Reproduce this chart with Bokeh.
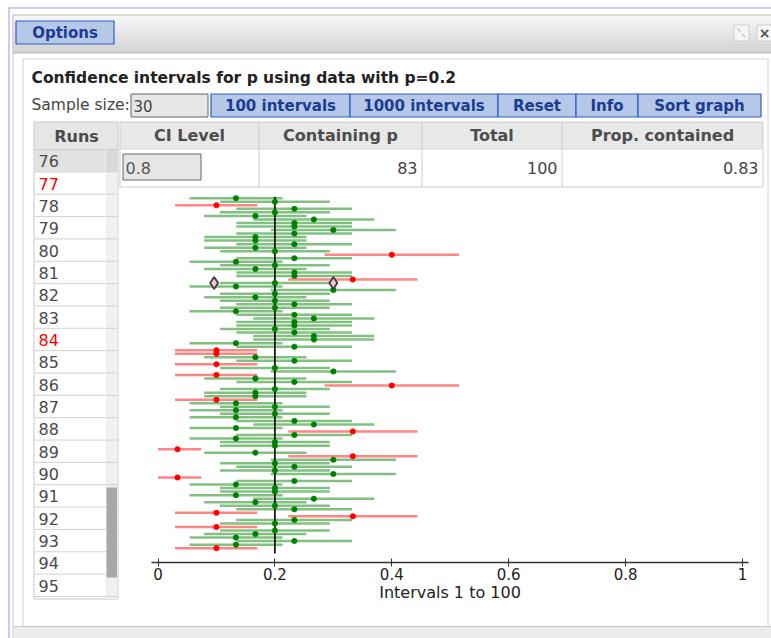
from bokeh.plotting import figure
from bokeh.models import Range1d, LinearAxis, FixedTicker, CustomJSTickFormatter, ColumnDataSource
from bokeh.core.properties import value
from bokeh.embed import file_html
from bokeh.resources import INLINE

# ---------------- data ----------------
n_obs = 30
p_true = 0.2
# number of successes (out of 30) of the 100 simulated samples, top to bottom
successes = [4, 6, 3, 7, 6, 5, 8, 7, 7, 9,
             7, 5, 5, 7, 5, 6, 12, 7, 4, 6,
             5, 7, 7, 10, 6, 4, 9, 6, 5, 6,
             7, 6, 4, 7, 8, 7, 7, 6, 7, 8,
             8, 4, 7, 3, 3, 5, 7, 3, 6, 9,
             3, 5, 7, 12, 6, 5, 5, 3, 4, 6,
             4, 6, 4, 7, 8, 4, 10, 7, 4, 6,
             6, 1, 5, 10, 9, 6, 7, 6, 9, 1,
             7, 4, 6, 6, 4, 8, 5, 6, 7, 3,
             10, 7, 6, 3, 6, 5, 4, 7, 4, 3]
# 80% interval end points for each observed count
ci_successes = [1, 3, 4, 5, 6, 7, 8, 9, 10, 12]
ci_lower = [0.000, 0.029, 0.054, 0.079, 0.106, 0.134, 0.163, 0.193, 0.223, 0.285]
ci_upper = [0.074, 0.170, 0.213, 0.254, 0.294, 0.332, 0.370, 0.407, 0.444, 0.515]
# highlighted interval markers
marker_x = [0.096, 0.300]
marker_row = [25, 25]

tick_vals = [0, 0.2, 0.4, 0.6, 0.8, 1]
tick_labels = ["0", "0.2", "0.4", "0.6", "0.8", "1"]

run_ids = ["76", "77", "78", "79", "80", "81", "82", "83", "84", "85",
           "86", "87", "88", "89", "90", "91", "92", "93", "94", "95"]
run_flagged = ["77", "84"]

table_headers = ["CI Level", "Containing p", "Total", "Prop. contained"]
ci_level = "0.8"
containing_p = "83"
total_runs = "100"
prop_contained = "0.83"
sample_size = "30"
buttons = ["100 intervals", "1000 intervals", "Reset", "Info", "Sort graph"]
chart_title = "Confidence intervals for p using data with p=0.2"
axis_title = "Intervals 1 to 100"

# ---------------- layout constants (screen px of the reference) ----------------
W, H = 771, 638
X0_PX, X_SCALE = 157.5, 584.5          # screen x of p=0 and px per unit
ROW1_PY, ROW_STEP = 197.7, 3.535       # screen y of row 1, px per row
AXIS_PY = 562

FONT = value("DejaVu Sans")

p = figure(width=W, height=H, output_backend="svg", toolbar_location=None,
           x_axis_location=None, y_axis_location=None, min_border=0,
           x_range=Range1d((0 - X0_PX) / X_SCALE, (W - X0_PX) / X_SCALE),
           y_range=Range1d(1 + (H - ROW1_PY) / ROW_STEP, 1 + (0 - ROW1_PY) / ROW_STEP))
p.extra_x_ranges = {"px": Range1d(0, W)}
p.extra_y_ranges = {"py": Range1d(H, 0)}
p.outline_line_color = None
p.background_fill_color = "white"
p.border_fill_color = "white"
p.grid.visible = False

PX = dict(x_range_name="px", y_range_name="py")


def box(l, t, r, b, fill, line=None, lw=1, alpha=1.0):
    p.quad(left=l, right=r, top=t, bottom=b, fill_color=fill, fill_alpha=alpha,
           line_color=line, line_width=lw, **PX)


def hline(x0, x1, y, color, lw=1):
    p.segment(x0=x0, x1=x1, y0=y, y1=y, line_color=color, line_width=lw, **PX)


def vline(x, y0, y1, color, lw=1):
    p.segment(x0=x, x1=x, y0=y0, y1=y1, line_color=color, line_width=lw, **PX)


def txt(x, y, s, size="15px", bold=False, color="#444444", align="left"):
    p.text(x=[x], y=[y], text=[s], text_font=FONT, text_font_size=size,
           text_font_style="bold" if bold else "normal", text_color=color,
           text_align=align, text_baseline="middle", **PX)


# ---------------- window chrome ----------------
hline(8, 771, 7.5, "#b9b9ee", 1.5)
vline(8.5, 7, 638, "#b9b9ee", 1.5)

# header gradient
g_top, g_bot = (247, 247, 247), (212, 212, 212)
steps = 12
for i in range(steps):
    f = i / (steps - 1)
    c = tuple(int(g_top[k] + (g_bot[k] - g_top[k]) * f) for k in range(3))
    y0 = 15 + i * (37 / steps)
    box(13, y0, 771, y0 + 37 / steps + 0.4, "#%02x%02x%02x" % c)
p.quad(left=12.5, right=775, top=14.5, bottom=52.5, fill_color=None,
       line_color="#b5b5b5", line_width=1, **PX)

# Options button
box(15.5, 20.5, 113.5, 43.5, "#b6c8e8", "#2d5cc0", 1.2)
txt(64.5, 32.5, "Options", "15px", True, "#1c3c90", "center")

# small header icons
box(733.5, 24.5, 748.5, 40.5, "#f6f6f6", "#cfcfcf")
p.segment(x0=[737, 744.5], y0=[28, 36.5], x1=[740, 741.5], y1=[31, 33.5],
          line_color="#9a9a9a", line_width=1, **PX)
box(756.5, 24.5, 771, 40.5, "#f6f6f6", "#cfcfcf")
txt(764, 32.5, "×", "14px", True, "#555555", "center")

# window / content borders
vline(12.5, 52, 638, "#c9c9c9")
vline(22.5, 58, 626, "#d4d4d4")
vline(767.5, 58, 626, "#d4d4d4")
hline(22, 768, 58.5, "#d4d4d4")
box(13, 626, 771, 638, "#ececec")
hline(13, 771, 626, "#c8c8c8")

# ---------------- top controls ----------------
txt(31, 77, chart_title, "15.5px", True, "#222222")
txt(31, 104.5, "Sample size:", "15.5px", False, "#444444")
box(130.5, 93.5, 207.5, 116.5, "#e6e6e6", "#666666")
txt(133, 105, sample_size, "15px", False, "#444444")

btn_edges = [210, 349, 497, 575, 637, 760]
for i, b in enumerate(buttons):
    l, r = btn_edges[i] + 0.5, btn_edges[i + 1] + 0.5
    box(l, 93.5, r, 116.5, "#b6c8e8", "#2d5cc0", 1.2)
    txt((l + r) / 2, 105, b, "15px", True, "#1c3c90", "center")

# ---------------- runs list ----------------
RUN_TOP, RUN_H = 149, 22.35
box(33.5, 121.5, 117.5, 149.5, "#e6e6e6", "#c8c8c8")
txt(76, 136, "Runs", "16px", True, "#4a4a4a", "center")
box(33.5, 149.5, 117.5, 598.5, "white", "#c8c8c8")
box(105.5, 150, 117, 598, "#f0f0f0")
for i, rid in enumerate(run_ids):
    top = RUN_TOP + i * RUN_H
    if i == 0:
        box(34, top + 0.5, 105, top + RUN_H, "#e2e2e2")
        box(105.5, top + 0.5, 117, top + RUN_H, "#d9d9d9")
    hline(33.5, 117.5, top + RUN_H, "#d2d2d2")
    col = "#ff0000" if rid in run_flagged else "#4a4a4a"
    txt(38, top + RUN_H / 2 + 0.5, rid, "16px", False, col)
box(106, 487, 116.5, 577, "#a8a8a8")

# ---------------- results table ----------------
col_edges = [119.5, 258.5, 421.5, 561.5, 762.5]
box(119.5, 121.5, 762.5, 148.5, "#e8e8e8")
box(119.5, 148.5, 762.5, 186.5, "white")
p.quad(left=119.5, right=762.5, top=121.5, bottom=186.5, fill_color=None,
       line_color="#cdcdcd", **PX)
hline(119.5, 762.5, 148.5, "#d6d6d6")
for xe in col_edges[1:-1]:
    vline(xe, 121.5, 186.5, "#cdcdcd")
for i, h in enumerate(table_headers):
    txt((col_edges[i] + col_edges[i + 1]) / 2, 134.5, h, "16px", True, "#4d4d4d", "center")
box(122.5, 153.5, 200.5, 179.5, "#e6e6e6", "#666666")
txt(125, 167, ci_level, "16px", False, "#555555")
txt(417, 167, containing_p, "16px", False, "#444444", "right")
txt(557, 167, total_runs, "16px", False, "#444444", "right")
txt(758, 167, prop_contained, "16px", False, "#444444", "right")

# ---------------- confidence intervals ----------------
rows = list(range(1, len(successes) + 1))
phat = [k / n_obs for k in successes]
lo = [ci_lower[ci_successes.index(k)] for k in successes]
hi = [ci_upper[ci_successes.index(k)] for k in successes]
hit = [l <= p_true <= h for l, h in zip(lo, hi)]
line_col = ["#82c082" if h else "#ff8585" for h in hit]
dot_col = ["#008000" if h else "#ff0000" for h in hit]
src = ColumnDataSource(dict(row=rows, phat=phat, lo=lo, hi=hi, lc=line_col, dc=dot_col))

p.segment(x0="lo", x1="hi", y0="row", y1="row", line_color="lc", line_width=2.5, source=src)
p.segment(x0=[p_true], x1=[p_true], y0=[0.6], y1=[101.5], line_color="black", line_width=1.6)
p.scatter(x="phat", y="row", size=5.5, fill_color="dc", line_color="dc", line_width=0.5, source=src)
p.scatter(x=marker_x, y=marker_row, marker="diamond", size=12, fill_color="#f0c6d2",
          line_color="#3a3a3a", line_width=1.8)

# ---------------- axis ----------------
axis = LinearAxis(fixed_location=1 + (AXIS_PY - ROW1_PY) / ROW_STEP,
                  ticker=FixedTicker(ticks=tick_vals),
                  formatter=CustomJSTickFormatter(args=dict(vals=tick_vals, labs=tick_labels), code="""
                      const i = vals.findIndex(v => Math.abs(v - tick) < 1e-9);
                      return i >= 0 ? labs[i] : String(tick);"""),
                  bounds=(-0.0105, 1.0105),
                  axis_label=axis_title)
axis.axis_line_color = "#333333"
axis.axis_line_width = 1.3
axis.major_tick_line_color = "#333333"
axis.major_tick_in = 4
axis.major_tick_out = 4
axis.minor_tick_line_color = None
axis.major_label_standoff = 1
axis.major_label_text_font = "DejaVu Sans"
axis.major_label_text_font_size = "15px"
axis.major_label_text_color = "#222222"
axis.axis_label_text_font = "DejaVu Sans"
axis.axis_label_text_font_size = "16px"
axis.axis_label_text_font_style = "normal"
axis.axis_label_text_color = "#222222"
axis.axis_label_standoff = 0
p.add_layout(axis, "below")

open("out.html", "w").write(file_html(p, INLINE))
